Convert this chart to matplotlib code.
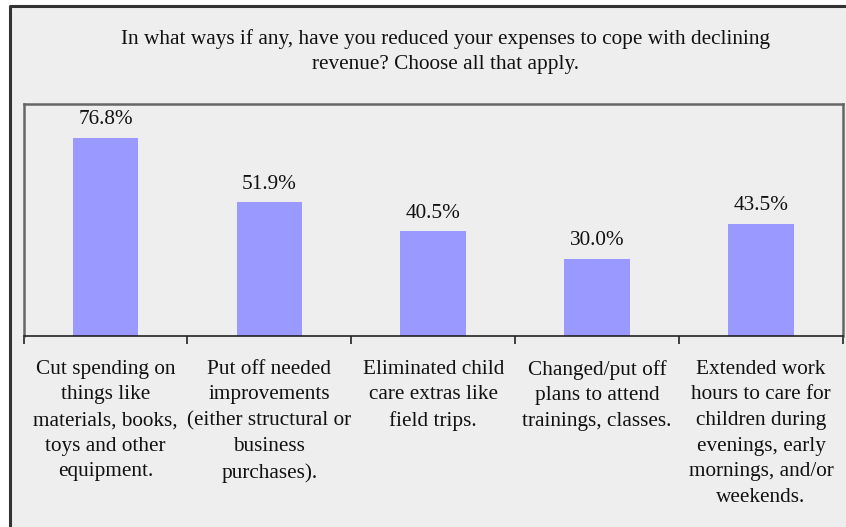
import matplotlib
matplotlib.use("Agg")
import matplotlib.pyplot as plt
from matplotlib.patches import Rectangle
from matplotlib.lines import Line2D

plt.rcParams['font.family'] = ['Liberation Serif', 'DejaVu Serif']

title = ("In what ways if any, have you reduced your expenses to cope with declining\n"
         "revenue? Choose all that apply.")
categories = [
    "Cut spending on\nthings like\nmaterials, books,\ntoys and other\nequipment.",
    "Put off needed\nimprovements\n(either structural or\nbusiness\npurchases).",
    "Eliminated child\ncare extras like\nfield trips.",
    "Changed/put off\nplans to attend\ntrainings, classes.",
    "Extended work\nhours to care for\nchildren during\nevenings, early\nmornings, and/or\nweekends.",
]
values = [76.8, 51.9, 40.5, 30.0, 43.5]

W, H = 846, 527
FS = 15.3
fig = plt.figure(figsize=(W / 100, H / 100), dpi=100, facecolor='white')

# grey chart area, with a dark frame along its left and top edges
x0, y0 = 9.5 / W, 1 - 5.5 / H
fig.add_artist(Rectangle((x0, 0), 1 - x0, y0, transform=fig.transFigure,
                         facecolor='#EEEEEE', edgecolor='none', zorder=-10))
fig.add_artist(Line2D([x0, x0, 1], [0, y0, y0], transform=fig.transFigure,
                      color='#333333', linewidth=2.2, zorder=-9))

ax = fig.add_axes([23.5 / W, 1 - 336 / H, (843 - 23.5) / W, (336 - 103.5) / H])
ax.set_facecolor('#EEEEEE')

centers = [i + 0.5 for i in range(len(values))]
bars = ax.bar(centers, values, width=0.4, color='#9999FF', edgecolor='none', zorder=2)
ax.bar_label(bars, labels=[f"{v:.1f}%" for v in values], padding=6, fontsize=FS,
             color='#111111')

ax.set_xlim(0, len(values))
ax.set_ylim(0, 90)
ax.set_yticks([])

# boundary ticks between categories, labels at category centres
ax.set_xticks(range(len(values) + 1))
ax.set_xticklabels([])
ax.tick_params(axis='x', which='major', direction='out', length=5.5, width=1.2,
               color='#222222')
ax.set_xticks(centers, labels=categories, minor=True)
ax.tick_params(axis='x', which='minor', length=0, pad=17, labelsize=FS,
               labelcolor='#111111')
for lbl in ax.get_xticklabels(minor=True):
    lbl.set_linespacing(1.48)

for side, sp in ax.spines.items():
    sp.set_color('#666666')
    sp.set_linewidth(1.8)
ax.spines['bottom'].set_color('#222222')
ax.spines['bottom'].set_linewidth(1.2)

fig.text(445 / W, 1 - 51.5 / H, title, ha='center', va='center', fontsize=FS,
         color='#111111', linespacing=1.45)

fig.savefig('out.png', dpi=100, facecolor=fig.get_facecolor())
